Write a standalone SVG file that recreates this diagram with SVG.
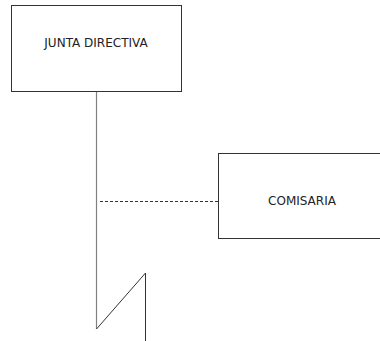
<svg xmlns="http://www.w3.org/2000/svg" width="380" height="341" viewBox="0 0 380 341">
  <style>
    .box { fill: #ffffff; stroke: #333333; stroke-width: 1; }
    .label { font-family: "DejaVu Sans", Verdana, sans-serif; font-size: 12px; fill: #222222; text-anchor: middle; }
    .conn { fill: none; stroke: #808080; stroke-width: 1.2; }
    .dash { fill: none; stroke: #333333; stroke-width: 1; stroke-dasharray: 3 2; }
  </style>
  <rect width="380" height="341" fill="#ffffff"/>
  <g id="connectors">
    <line class="conn" x1="96.5" y1="92" x2="96.5" y2="329"/>
    <path d="M96.5 329 L145.5 273 L145.5 341" fill="none" stroke="#333333" stroke-width="1"/>
    <line class="dash" x1="100" y1="201.5" x2="218" y2="201.5"/>
  </g>
  <g id="junta-directiva">
    <rect class="box" x="11.5" y="5.5" width="170" height="86"/>
    <text class="label" x="96" y="47">JUNTA DIRECTIVA</text>
  </g>
  <g id="comisaria">
    <rect class="box" x="218.5" y="153.5" width="162" height="85"/>
    <text class="label" x="302" y="205">COMISARIA</text>
  </g>
</svg>
